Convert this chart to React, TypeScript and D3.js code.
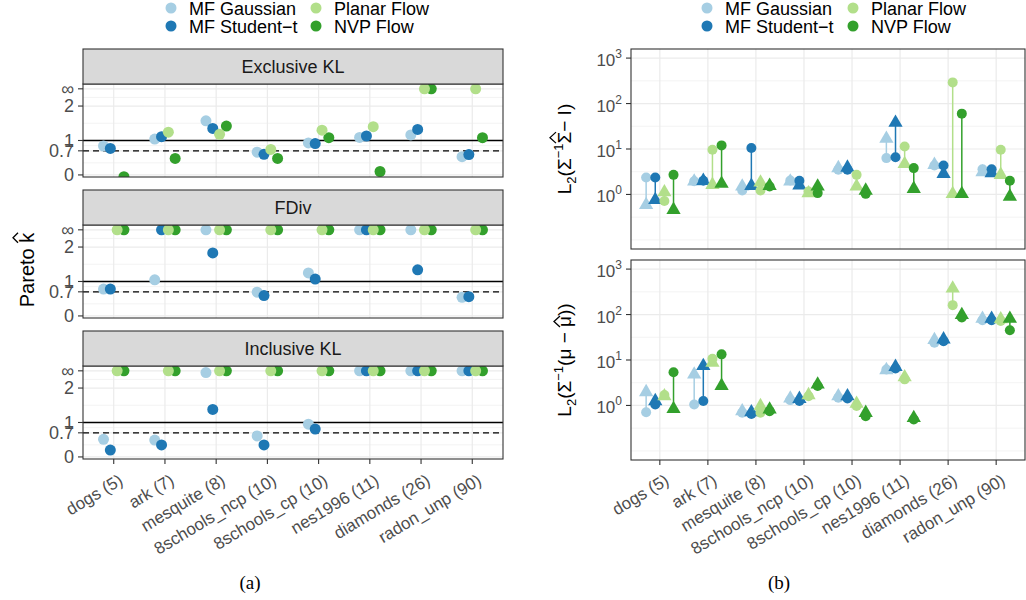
import { useEffect, useRef } from 'react';
import * as d3 from 'd3';

const INF = Infinity;

const datasets = [
  'dogs (5)',
  'ark (7)',
  'mesquite (8)',
  '8schools_ncp (10)',
  '8schools_cp (10)',
  'nes1996 (11)',
  'diamonds (26)',
  'radon_unp (90)',
];
const methods = ['MF Gaussian', 'MF Student\u2212t', 'Planar Flow', 'NVP Flow'];
const methodColors = ['#A6CEE3', '#1F78B4', '#B2DF8A', '#33A02C'];
const divergences = ['Exclusive KL', 'FDiv', 'Inclusive KL'];

// Pareto k-hat, one row per method (null = off the panel)
const khatExclusiveKL = [
  [0.84, 1.04, 1.57, 0.66, 0.93, 1.09, 1.16, 0.53],
  [0.77, 1.11, 1.35, 0.6, 0.91, 1.13, 1.32, 0.59],
  [null, 1.24, 1.18, 0.74, 1.3, 1.4, INF, INF],
  [-0.05, 0.48, 1.42, 0.48, 1.08, 0.1, INF, 1.08],
];
const khatFDiv = [
  [0.78, 1.05, INF, 0.69, 1.25, INF, INF, 0.54],
  [0.78, INF, 1.83, 0.59, 1.07, INF, 1.34, 0.56],
  [INF, INF, INF, INF, INF, INF, INF, INF],
  [INF, INF, INF, INF, INF, INF, INF, INF],
];
const khatInclusiveKL = [
  [0.51, 0.49, 2.45, 0.61, 0.95, INF, INF, INF],
  [0.2, 0.35, 1.38, 0.35, 0.81, INF, INF, INF],
  [INF, INF, INF, INF, INF, INF, INF, INF],
  [INF, INF, INF, INF, INF, INF, INF, INF],
];
const khatTicks = [0, 0.7, 1, 2, INF];
const khatTickLabels = ['0', '0.7', '1', '2', '\u221E'];

// L2 errors: circle and triangle estimates, one row per method
const sigmaCircle = [
  [2.37, 1.95, 1.22, 2.03, 3.5, 6.3, 4.35, 3.6],
  [2.37, 2.0, 10.5, 2.0, 3.5, 6.6, 4.35, 3.6],
  [0.72, 9.6, 1.22, 1.16, 2.7, 11.4, 292, 9.6],
  [2.7, 12, 1.5, 1.07, 1.03, 3.8, 60, 2.0],
];
const sigmaTriangle = [
  [0.59, 1.93, 1.5, 1.93, 3.8, 16.8, 4.5, 3.1],
  [0.76, 2.0, 1.55, 1.58, 3.9, 38, 2.85, 2.95],
  [1.12, 1.63, 1.84, 1.07, 1.5, 4.7, 1.03, 2.7],
  [0.46, 1.72, 1.55, 1.5, 1.22, 1.33, 1.03, 0.9],
];
const muCircle = [
  [0.71, 1.05, 0.69, 1.31, 1.48, 6.2, 24, 75],
  [1.05, 1.25, 0.65, 1.25, 1.43, 6.5, 26, 75],
  [1.69, 10.7, 0.69, 1.6, 0.97, 3.75, 161, 72],
  [5.4, 13.3, 0.75, 2.67, 0.58, 0.49, 86, 45],
];
const muTriangle = [
  [1.97, 4.8, 0.75, 1.43, 1.6, 6.0, 27.6, 81],
  [1.25, 7.4, 0.71, 1.4, 1.6, 7.1, 28.5, 81],
  [1.6, 8.7, 0.97, 1.69, 1.09, 4.2, 375, 79],
  [0.84, 2.7, 0.82, 2.9, 0.69, 0.53, 98, 81],
];
const logTickExponents = [0, 1, 2, 3];

const W = 1026;
const H = 600;
const FONT = '"Liberation Sans", Arial, Helvetica, sans-serif';
const GRID = '#EBEBEB';
const DARK = '#333333';
const TICK_TEXT = '#4D4D4D';
const INF_POS = 2.5;
const X_LABEL_ANGLE = -31;

export default function App() {
  const svgRef = useRef<SVGSVGElement>(null);

  useEffect(() => {
    if (!svgRef.current) return;
    const svg = d3.select(svgRef.current);
    svg.selectAll('*').remove();
    const defs = svg.append('defs');

    // ---------- (a) Pareto k-hat facets ----------
    const lx0 = 83;
    const lx1 = 503;
    const xL = d3.scalePoint<string>().domain(datasets).range([lx0, lx1]).padding(0.6);
    const stepL = xL.step();
    const facetTops = [49, 190, 331];
    const stripH = 35;
    const panelH = 93;
    const khatSets = [khatExclusiveKL, khatFDiv, khatInclusiveKL];
    const drawOrder = [0, 3, 1, 2];

    divergences.forEach((div, fi) => {
      const top = facetTops[fi];
      const py0 = top + stripH;
      const py1 = py0 + panelH;
      const y = d3.scaleLinear().domain([-0.06, 2.64]).range([py1, py0]);
      const g = svg.append('g');

      const clipId = `clip-left-${fi}`;
      defs.append('clipPath').attr('id', clipId)
        .append('rect').attr('x', lx0).attr('y', py0).attr('width', lx1 - lx0).attr('height', panelH);

      g.append('rect').attr('x', lx0).attr('y', py0).attr('width', lx1 - lx0).attr('height', panelH).attr('fill', '#fff');

      // minor grid
      [0.35, 0.85, 1.5, 2.25].forEach((v) => {
        g.append('line').attr('x1', lx0).attr('x2', lx1).attr('y1', y(v)).attr('y2', y(v))
          .attr('stroke', GRID).attr('stroke-width', 0.6);
      });
      // major grid
      khatTicks.forEach((v) => {
        const yy = y(v === INF ? INF_POS : v);
        g.append('line').attr('x1', lx0).attr('x2', lx1).attr('y1', yy).attr('y2', yy)
          .attr('stroke', GRID).attr('stroke-width', 1.2);
      });
      datasets.forEach((d) => {
        g.append('line').attr('x1', xL(d)!).attr('x2', xL(d)!).attr('y1', py0).attr('y2', py1)
          .attr('stroke', GRID).attr('stroke-width', 1.2);
      });

      // reference lines
      g.append('line').attr('x1', lx0).attr('x2', lx1).attr('y1', y(1)).attr('y2', y(1))
        .attr('stroke', '#000').attr('stroke-width', 1.3);
      g.append('line').attr('x1', lx0).attr('x2', lx1).attr('y1', y(0.7)).attr('y2', y(0.7))
        .attr('stroke', '#000').attr('stroke-width', 1.3).attr('stroke-dasharray', '6,4');

      // points
      const pg = g.append('g').attr('clip-path', `url(#${clipId})`);
      const values = khatSets[fi];
      drawOrder.forEach((m) => {
        values[m].forEach((v, i) => {
          if (v === null) return;
          const cx = xL(datasets[i])! + (m - 1.5) * 0.133 * stepL;
          pg.append('circle')
            .attr('cx', cx)
            .attr('cy', y(v === INF ? INF_POS : v))
            .attr('r', 5.5)
            .attr('fill', methodColors[m]);
        });
      });

      // border
      g.append('rect').attr('x', lx0).attr('y', py0).attr('width', lx1 - lx0).attr('height', panelH)
        .attr('fill', 'none').attr('stroke', DARK).attr('stroke-width', 1.1);

      // strip
      g.append('rect').attr('x', lx0).attr('y', top).attr('width', lx1 - lx0).attr('height', stripH)
        .attr('fill', '#D9D9D9').attr('stroke', DARK).attr('stroke-width', 1.1);
      g.append('text').attr('x', (lx0 + lx1) / 2).attr('y', top + stripH / 2 + 6)
        .attr('text-anchor', 'middle').attr('font-family', FONT).attr('font-size', 18)
        .attr('fill', '#1A1A1A').text(div);

      // y ticks
      khatTicks.forEach((v, k) => {
        const yy = y(v === INF ? INF_POS : v);
        g.append('line').attr('x1', lx0 - 5).attr('x2', lx0).attr('y1', yy).attr('y2', yy)
          .attr('stroke', DARK).attr('stroke-width', 1.1);
        g.append('text').attr('x', lx0 - 9).attr('y', yy + 6.3)
          .attr('text-anchor', 'end').attr('font-family', FONT).attr('font-size', 18)
          .attr('fill', TICK_TEXT).text(khatTickLabels[k]);
      });

      // x ticks on bottom facet only
      if (fi === divergences.length - 1) {
        datasets.forEach((d) => {
          const xx = xL(d)!;
          g.append('line').attr('x1', xx).attr('x2', xx).attr('y1', py1).attr('y2', py1 + 5)
            .attr('stroke', DARK).attr('stroke-width', 1.1);
          g.append('text')
            .attr('transform', `translate(${xx + 4},${py1 + 14}) rotate(${X_LABEL_ANGLE})`)
            .attr('text-anchor', 'end').attr('dy', '0.72em')
            .attr('font-family', FONT).attr('font-size', 17).attr('fill', TICK_TEXT)
            .text(d);
        });
      }
    });

    // y-axis title Pareto k-hat
    const ltg = svg.append('g').attr('transform', 'translate(34,270) rotate(-90)');
    const lt = ltg.append('text').attr('text-anchor', 'middle').attr('font-family', FONT)
      .attr('font-size', 20).attr('fill', '#000').text('Pareto k');
    const kNode = lt.node() as SVGTextElement;
    const kExt = kNode.getExtentOfChar(7);
    const kcx = kExt.x + kExt.width / 2;
    ltg.append('path')
      .attr('d', `M${kcx - 5},-16 L${kcx},-21 L${kcx + 5},-16`)
      .attr('fill', 'none').attr('stroke', '#000').attr('stroke-width', 1.3);

    // ---------- (b) L2 error panels ----------
    const rx0 = 631;
    const rx1 = 1025;
    const xR = d3.scalePoint<string>().domain(datasets).range([rx0, rx1]).padding(0.6);
    const stepR = xR.step();
    const rightPanels = [
      { top: 49, bottom: 249, circle: sigmaCircle, triangle: sigmaTriangle },
      { top: 260, bottom: 460, circle: muCircle, triangle: muTriangle },
    ];
    const tri = d3.symbol().type(d3.symbolTriangle).size(88)();

    rightPanels.forEach((p, pi) => {
      const y = d3.scaleLog().domain([10 ** -1.2, 10 ** 3.2]).range([p.bottom, p.top]);
      const g = svg.append('g');
      const clipId = `clip-right-${pi}`;
      defs.append('clipPath').attr('id', clipId)
        .append('rect').attr('x', rx0).attr('y', p.top).attr('width', rx1 - rx0).attr('height', p.bottom - p.top);

      g.append('rect').attr('x', rx0).attr('y', p.top).attr('width', rx1 - rx0).attr('height', p.bottom - p.top)
        .attr('fill', '#fff');

      [-1, -0.5, 0.5, 1.5, 2.5].forEach((e) => {
        g.append('line').attr('x1', rx0).attr('x2', rx1).attr('y1', y(10 ** e)).attr('y2', y(10 ** e))
          .attr('stroke', GRID).attr('stroke-width', 0.6);
      });
      logTickExponents.forEach((e) => {
        g.append('line').attr('x1', rx0).attr('x2', rx1).attr('y1', y(10 ** e)).attr('y2', y(10 ** e))
          .attr('stroke', GRID).attr('stroke-width', 1.2);
      });
      datasets.forEach((d) => {
        g.append('line').attr('x1', xR(d)!).attr('x2', xR(d)!).attr('y1', p.top).attr('y2', p.bottom)
          .attr('stroke', GRID).attr('stroke-width', 1.2);
      });

      const pg = g.append('g').attr('clip-path', `url(#${clipId})`);
      methods.forEach((_, m) => {
        datasets.forEach((d, i) => {
          const cx = xR(d)! + (m - 1.5) * 0.19 * stepR;
          const yc = y(p.circle[m][i]);
          const yt = y(p.triangle[m][i]);
          pg.append('line').attr('x1', cx).attr('x2', cx).attr('y1', yc).attr('y2', yt)
            .attr('stroke', methodColors[m]).attr('stroke-width', 1.5);
          pg.append('path').attr('d', tri).attr('transform', `translate(${cx},${yt})`)
            .attr('fill', methodColors[m]);
          pg.append('circle').attr('cx', cx).attr('cy', yc).attr('r', 5)
            .attr('fill', methodColors[m]);
        });
      });

      g.append('rect').attr('x', rx0).attr('y', p.top).attr('width', rx1 - rx0).attr('height', p.bottom - p.top)
        .attr('fill', 'none').attr('stroke', DARK).attr('stroke-width', 1.1);

      logTickExponents.forEach((e) => {
        const yy = y(10 ** e);
        g.append('line').attr('x1', rx0 - 5).attr('x2', rx0).attr('y1', yy).attr('y2', yy)
          .attr('stroke', DARK).attr('stroke-width', 1.1);
        const t = g.append('text').attr('x', rx0 - 9).attr('y', yy + 8)
          .attr('text-anchor', 'end').attr('font-family', FONT).attr('font-size', 17)
          .attr('fill', TICK_TEXT);
        t.append('tspan').text('10');
        t.append('tspan').attr('font-size', 12).attr('dy', -8).text(String(e));
      });

      if (pi === rightPanels.length - 1) {
        datasets.forEach((d) => {
          const xx = xR(d)!;
          g.append('line').attr('x1', xx).attr('x2', xx).attr('y1', p.bottom).attr('y2', p.bottom + 5)
            .attr('stroke', DARK).attr('stroke-width', 1.1);
          g.append('text')
            .attr('transform', `translate(${xx + 4},${p.bottom + 13}) rotate(${X_LABEL_ANGLE})`)
            .attr('text-anchor', 'end').attr('dy', '0.72em')
            .attr('font-family', FONT).attr('font-size', 17).attr('fill', TICK_TEXT)
            .text(d);
        });
      }

      // axis title with a hat
      const cy = (p.top + p.bottom) / 2;
      const tg = svg.append('g').attr('transform', `translate(571,${cy}) rotate(-90)`);
      const tt = tg.append('text').attr('text-anchor', 'middle').attr('font-family', FONT)
        .attr('font-size', 19).attr('fill', '#000');
      tt.append('tspan').text('L');
      tt.append('tspan').attr('font-size', 13).attr('dy', 5).text('2');
      tt.append('tspan').attr('dy', -5).text('(\u03A3');
      tt.append('tspan').attr('font-size', 13).attr('dy', -8).text('\u22121');
      let hatIdx;
      let hatTop;
      if (pi === 0) {
        tt.append('tspan').attr('dy', 8).text('\u03A3\u2212 I)');
        hatIdx = 6;
        hatTop = -15;
      } else {
        tt.append('tspan').attr('dy', 8).text('(\u03BC \u2212 \u03BC))');
        hatIdx = 11;
        hatTop = -11;
      }
      const ext = (tt.node() as SVGTextElement).getExtentOfChar(hatIdx);
      const hx = ext.x + ext.width / 2;
      tg.append('path')
        .attr('d', `M${hx - 5.5},${hatTop} L${hx},${hatTop - 6} L${hx + 5.5},${hatTop}`)
        .attr('fill', 'none').attr('stroke', '#000').attr('stroke-width', 1.3);
    });

    // ---------- legends ----------
    const legends = [
      { cols: [171, 316] },
      { cols: [707, 853] },
    ];
    legends.forEach((lg) => {
      methods.forEach((name, m) => {
        const col = Math.floor(m / 2);
        const row = m % 2;
        const cx = lg.cols[col];
        const cy = 8 + row * 18;
        svg.append('circle').attr('cx', cx).attr('cy', cy).attr('r', 5.5).attr('fill', methodColors[m]);
        svg.append('text').attr('x', cx + 18).attr('y', cy + 6.5)
          .attr('font-family', FONT).attr('font-size', 18).attr('fill', '#000').text(name);
      });
    });

    // sub-figure captions
    [['(a)', 250], ['(b)', 779]].forEach(([lab, x]) => {
      svg.append('text').attr('x', x as number).attr('y', 589).attr('text-anchor', 'middle')
        .attr('font-family', '"Liberation Serif", "Times New Roman", serif').attr('font-size', 19)
        .attr('fill', '#000').text(lab as string);
    });
  }, []);

  return (
    <svg
      ref={svgRef}
      width={W}
      height={H}
      style={{ position: 'absolute', left: 0, top: 0, background: '#fff' }}
    />
  );
}
